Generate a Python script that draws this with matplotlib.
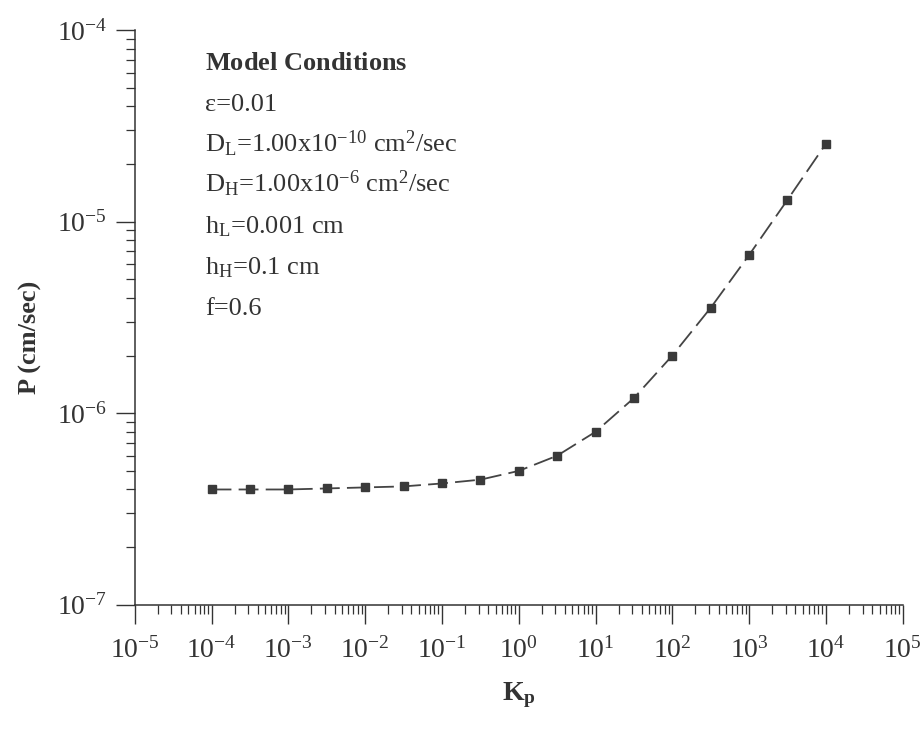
import math
import matplotlib
matplotlib.use("Agg")
import matplotlib.pyplot as plt
from matplotlib.ticker import LogLocator, FuncFormatter, NullFormatter

plt.rcParams['font.family'] = 'Liberation Serif'
plt.rcParams['mathtext.fontset'] = 'custom'
plt.rcParams['mathtext.rm'] = 'Liberation Serif'
plt.rcParams['mathtext.it'] = 'Liberation Serif:italic'
plt.rcParams['mathtext.bf'] = 'Liberation Serif:bold'

# Kp values (half decades) and permeability P (cm/sec)
kp = [1e-4, 3.16e-4, 1e-3, 3.16e-3, 1e-2, 3.16e-2, 1e-1, 3.16e-1, 1e0,
      3.16e0, 1e1, 3.16e1, 1e2, 3.16e2, 1e3, 3.16e3, 1e4]
perm = [4.0e-7, 4.0e-7, 4.0e-7, 4.05e-7, 4.1e-7, 4.15e-7, 4.3e-7, 4.5e-7, 5.0e-7,
        6.0e-7, 8.0e-7, 1.2e-6, 2.0e-6, 3.55e-6, 6.7e-6, 1.3e-5, 2.55e-5]

conditions = [
    r"$\mathbf{Model\ Conditions}$",
    "\u03b5=0.01",
    r"D$_\mathregular{L}$=1.00x10$^\mathregular{-10}$ cm$^\mathregular{2}$/sec",
    r"D$_\mathregular{H}$=1.00x10$^\mathregular{-6}$ cm$^\mathregular{2}$/sec",
    r"h$_\mathregular{L}$=0.001 cm",
    r"h$_\mathregular{H}$=0.1 cm",
    "f=0.6",
]

fig = plt.figure(figsize=(9.23, 7.34), dpi=100)
ax = fig.add_axes([0.146, 0.176, 0.832, 0.783])

ax.plot(kp, perm, color='#444444', lw=1.3, dashes=(11, 4),
        marker='s', ms=5.5, mfc='#3a3a3a', mec='#3a3a3a')

ax.set_xscale('log')
ax.set_yscale('log')
ax.set_xlim(1e-5, 1e5)
ax.set_ylim(1e-7, 1e-4)

ax.spines['top'].set_visible(False)
ax.spines['right'].set_visible(False)
for s in ['left', 'bottom']:
    ax.spines[s].set_linewidth(1.1)
    ax.spines[s].set_color('#333333')

fmt = FuncFormatter(lambda v, p: r"$10^{%d}$" % round(math.log10(v)))
ax.xaxis.set_major_locator(LogLocator(base=10, numticks=20))
ax.yaxis.set_major_locator(LogLocator(base=10, numticks=20))
ax.xaxis.set_minor_locator(LogLocator(base=10, subs=range(2, 10), numticks=20))
ax.yaxis.set_minor_locator(LogLocator(base=10, subs=range(2, 10), numticks=20))
ax.xaxis.set_major_formatter(fmt)
ax.yaxis.set_major_formatter(fmt)
ax.xaxis.set_minor_formatter(NullFormatter())
ax.yaxis.set_minor_formatter(NullFormatter())

ax.tick_params(which='major', direction='out', length=14, width=1.0,
               color='#333333', labelsize=20, labelcolor='#333333', pad=6)
ax.tick_params(axis='x', which='major', pad=9)
ax.tick_params(which='minor', direction='out', length=6.5, width=0.9,
               color='#333333')

ax.set_xlabel(r"K$_\mathregular{p}$", fontsize=20, fontweight='bold',
              color='#333333', labelpad=12)
ax.set_ylabel("P (cm/sec)", fontsize=19, fontweight='bold', color='#333333')
ax.yaxis.set_label_coords(-0.121, 0.466)

# condition block, one line per row, aligned on baselines
for i, line in enumerate(conditions):
    ax.text(0.092, 0.930 - i * 0.071, line, transform=ax.transAxes,
            fontsize=19, color='#333333', va='baseline', ha='left')

fig.savefig("out.png", dpi=100)
